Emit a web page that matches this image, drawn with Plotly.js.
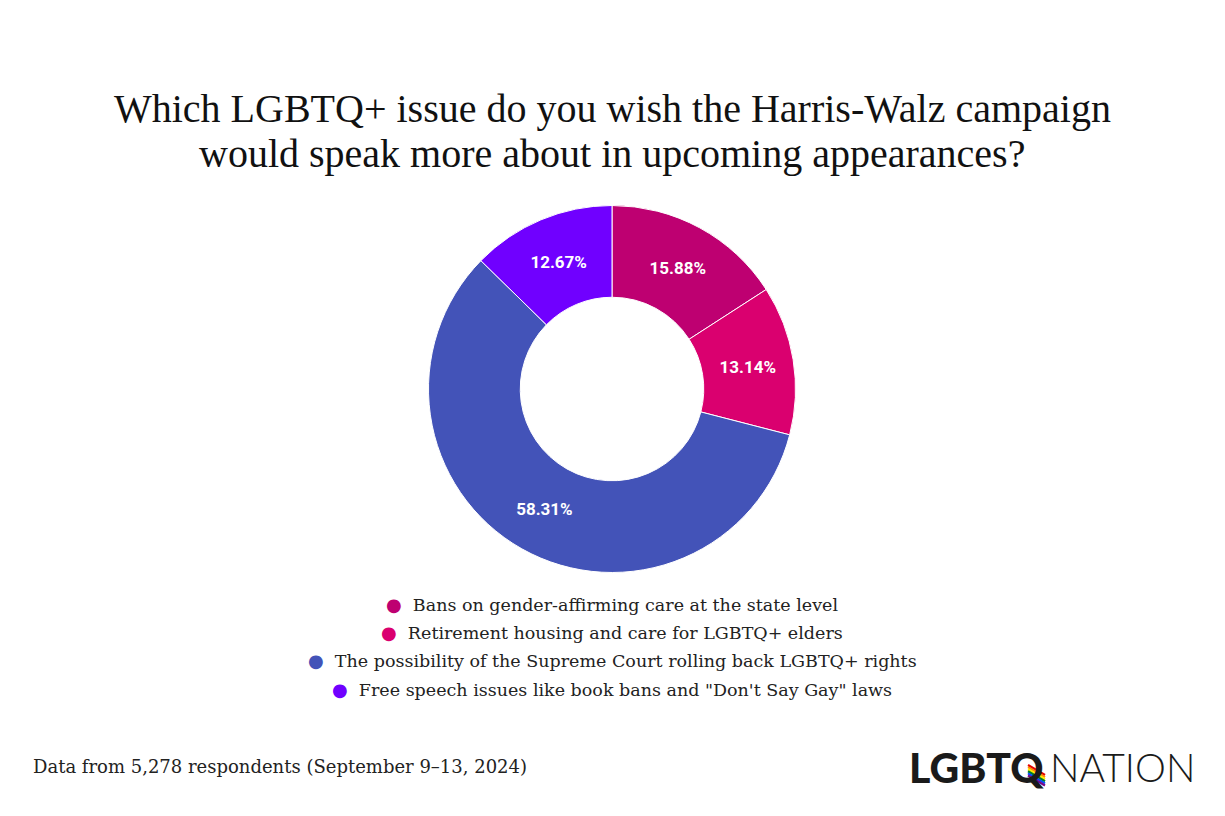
<!DOCTYPE html>
<html>
<head>
<meta charset="utf-8">
<script src="https://cdn.plot.ly/plotly-3.0.1.min.js"></script>
<style>
  html, body { margin: 0; padding: 0; background: #ffffff; }
  #chart { width: 1225px; height: 816px; }
</style>
</head>
<body>
<div id="chart"></div>
<script>
// ---- Data ----
const categories = [
  "Bans on gender-affirming care at the state level",
  "Retirement housing and care for LGBTQ+ elders",
  "The possibility of the Supreme Court rolling back LGBTQ+ rights",
  "Free speech issues like book bans and \"Don't Say Gay\" laws"
];
const shares = [15.88, 13.14, 58.31, 12.67];
const colors = ["#BE0071", "#DA006F", "#4353B8", "#7000FF"];

const titleLines = [
  "Which LGBTQ+ issue do you wish the Harris-Walz campaign",
  "would speak more about in upcoming appearances?"
];
const footnote = "Data from 5,278 respondents (September 9\u201313, 2024)";
const rainbow = ["#E40303", "#FF8C00", "#FFED00", "#008026", "#004DFF", "#750787"];

// ---- Layout helpers (pixel -> paper) ----
const W = 1225, H = 816;
const px = x => x / W;
const py = y => 1 - y / H;

const cx = 612, cy = 389, R = 183.5;

const pie = {
  type: "pie",
  labels: categories,
  values: shares,
  sort: false,
  direction: "clockwise",
  rotation: 0,
  hole: 0.5,
  marker: { colors: colors, line: { color: "#ffffff", width: 1 } },
  texttemplate: "%{value:.2f}%",
  textposition: "inside",
  insidetextorientation: "horizontal",
  textfont: { family: "Roboto, sans-serif", size: 17, color: "#ffffff", weight: 700 },
  hoverinfo: "skip",
  domain: { x: [px(cx - R), px(cx + R)], y: [py(cy + R), py(cy - R)] },
  showlegend: false
};

const annotations = [];
// Title lines
const titleY = [108.5, 153];
titleLines.forEach((t, i) => {
  annotations.push({
    text: t, xref: "paper", yref: "paper", x: px(612), y: py(titleY[i]),
    xanchor: "center", yanchor: "middle", showarrow: false,
    font: { family: "Liberation Serif, serif", size: 40, color: "#111111" }
  });
});
// Legend (centered lines)
const legendY = [604, 632, 660, 689];
categories.forEach((c, i) => {
  annotations.push({
    text: '<span style="color:' + colors[i] + ';font-size:18px">\u25CF</span>\u00a0\u00a0' + c,
    xref: "paper", yref: "paper", x: px(612), y: py(legendY[i]),
    xanchor: "center", yanchor: "middle", showarrow: false,
    font: { family: "DejaVu Serif, serif", size: 17.5, color: "#222222" }
  });
});
// Footnote
annotations.push({
  text: footnote, xref: "paper", yref: "paper", x: px(31), y: py(766),
  xanchor: "left", yanchor: "middle", showarrow: false,
  font: { family: "DejaVu Serif, serif", size: 18, color: "#222222" }
});
// Logo
annotations.push({
  text: "LGBTQ", xref: "paper", yref: "paper", x: px(1046), y: py(767),
  xanchor: "right", yanchor: "middle", showarrow: false,
  font: { family: "Lato, sans-serif", size: 41, color: "#1a1a1a", weight: 900 }
});
annotations.push({
  text: "NATION", xref: "paper", yref: "paper", x: px(1048), y: py(767),
  xanchor: "left", yanchor: "middle", showarrow: false,
  font: { family: "Lato, sans-serif", size: 39, color: "#1a1a1a", weight: 300 }
});

// Small rainbow flag on the logo's Q tail (decoration)
const shapes = rainbow.map((c, i) => ({
  type: "line", xref: "paper", yref: "paper",
  x0: px(1028), y0: py(765 + 2.1 * i), x1: px(1045), y1: py(775 + 2.1 * i),
  line: { color: c, width: 2.2 }
}));

const layout = {
  width: W, height: H,
  margin: { l: 0, r: 0, t: 0, b: 0 },
  paper_bgcolor: "#ffffff",
  plot_bgcolor: "#ffffff",
  showlegend: false,
  annotations: annotations,
  shapes: shapes
};

Plotly.newPlot("chart", [pie], layout, { displayModeBar: false, staticPlot: true });
</script>
</body>
</html>
